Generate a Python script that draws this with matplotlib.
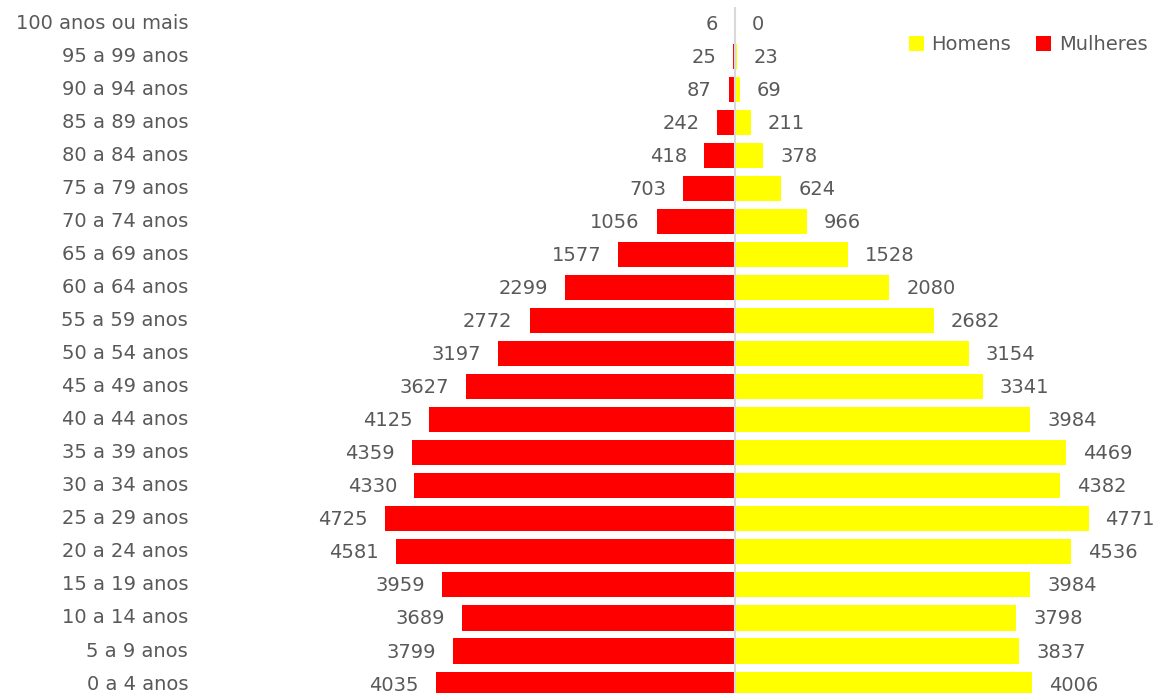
import numpy as np
import matplotlib.pyplot as plt

ages = ["0 a 4 anos", "5 a 9 anos", "10 a 14 anos", "15 a 19 anos", "20 a 24 anos",
        "25 a 29 anos", "30 a 34 anos", "35 a 39 anos", "40 a 44 anos", "45 a 49 anos",
        "50 a 54 anos", "55 a 59 anos", "60 a 64 anos", "65 a 69 anos", "70 a 74 anos",
        "75 a 79 anos", "80 a 84 anos", "85 a 89 anos", "90 a 94 anos", "95 a 99 anos",
        "100 anos ou mais"]
mulheres = [4035, 3799, 3689, 3959, 4581, 4725, 4330, 4359, 4125, 3627, 3197, 2772,
            2299, 1577, 1056, 703, 418, 242, 87, 25, 6]
homens = [4006, 3837, 3798, 3984, 4536, 4771, 4382, 4469, 3984, 3341, 3154, 2682,
          2080, 1528, 966, 624, 378, 211, 69, 23, 0]

plt.rcParams['font.family'] = ['DejaVu Sans']
txt = '#595959'
fs = 14

W, H = 1159, 693
fig = plt.figure(figsize=(W / 100, H / 100), dpi=100)
# plot area in pixels
left_px, right_px, top_px, bot_px = 195, 1159, 6.5, 693
ax = fig.add_axes([left_px / W, 1 - bot_px / H, (right_px - left_px) / W, (bot_px - top_px) / H])

y = np.arange(len(ages))
scale = 0.0741  # px per person
center = 735
ax.set_xlim(-(center - left_px) / scale, (right_px - center) / scale)
ax.set_ylim(-0.27, 20.5)

ax.barh(y, homens, height=0.76, color='#FFFF00', label='Homens', zorder=2)
ax.barh(y, [-v for v in mulheres], height=0.76, color='#FF0000', label='Mulheres', zorder=2)
ax.axvline(0, color='#D9D9D9', lw=1.5, zorder=3)

for yi, v in zip(y, mulheres):
    ax.annotate(str(v), (-v, yi), xytext=(-17, -1), textcoords='offset pixels',
                ha='right', va='center', fontsize=fs, color=txt)
for yi, v in zip(y, homens):
    ax.annotate(str(v), (v, yi), xytext=(17, -1), textcoords='offset pixels',
                ha='left', va='center', fontsize=fs, color=txt)

ax.set_yticks(y)
ax.set_yticklabels(ages, fontsize=fs, color=txt, va='center')
ax.tick_params(axis='y', length=0, pad=5)
ax.set_xticks([])
for s in ax.spines.values():
    s.set_visible(False)

ax.legend(loc='upper right', bbox_to_anchor=(1.0, 0.975), ncol=2, frameon=False,
          fontsize=fs, labelcolor=txt, handlelength=0.75, handleheight=0.75,
          handletextpad=0.4, columnspacing=1.3, borderaxespad=0.2)

fig.savefig('out.png', dpi=100)
